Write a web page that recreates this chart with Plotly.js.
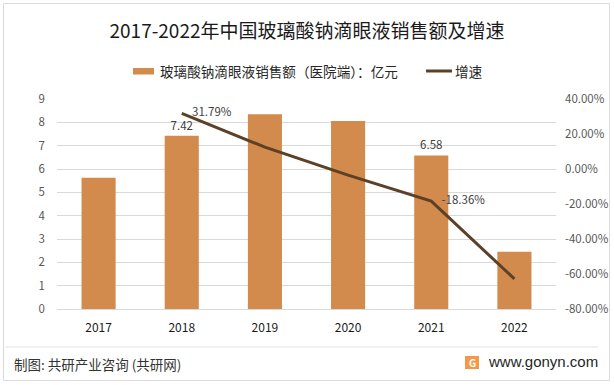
<!DOCTYPE html>
<html><head><meta charset="utf-8">
<script src="https://cdn.plot.ly/plotly-3.0.1.min.js"></script>
<style>html,body{margin:0;padding:0;background:#fff}#chart{width:614px;height:385px}</style>
</head><body><div id="chart"></div>
<script>
const years = ['2017','2018','2019','2020','2021','2022'];
const sales = [5.63, 7.42, 8.35, 8.06, 6.58, 2.45];
const salesLabels = ['', '7.42', '', '', '6.58', ''];
const growthYears = ['2018','2019','2020','2021','2022'];
const growth = [31.79, 12.5, -3.5, -18.36, -62.8];
const growthLabels = ['31.79%', '', '', '-18.36%', ''];
const leftTicks = [0,1,2,3,4,5,6,7,8,9];
const rightTicks = [-80,-60,-40,-20,0,20,40];
const rightTickText = rightTicks.map(v => v.toFixed(2) + '%');
const barName = '玻璃酸钠滴眼液销售额（医院端）：亿元';
const lineName = '增速';

const FONT = '"Noto Sans CJK SC", "Noto Sans", sans-serif';
const pw = 499, ph = 210, L = 57, T = 99;
const px = x => (x - L) / pw;
const py = y => (T + ph - y) / ph;
const BAR_COLOR = '#D38B4D', LINE_COLOR = '#5C4127';
const pad = '\u00a0\u00a0\u00a0\u00a0';

const traces = [
  {type:'bar', x: years, y: sales, name: barName,
   marker:{color:BAR_COLOR}, width:0.41,
   text: salesLabels, textposition:'outside', cliponaxis:false,
   textfont:{size:11.5, color:'#404040', family:FONT}, hoverinfo:'none'},
  {type:'scatter', mode:'lines+text', x: growthYears, y: growth, yaxis:'y2', name: lineName,
   line:{color:LINE_COLOR, width:3},
   text: growthLabels.map(t => t ? pad + t : ''), textposition:'middle right', cliponaxis:false,
   textfont:{size:11.5, color:'#404040', family:FONT}, hoverinfo:'none'}
];

const layout = {
  width:614, height:385,
  margin:{l:L, r:614-L-pw, t:T, b:385-T-ph, pad:0},
  paper_bgcolor:'#fff', plot_bgcolor:'#fff',
  font:{family:FONT, color:'#595959', size:11},
  title:{text:'2017-2022年中国玻璃酸钠滴眼液销售额及增速', x:0.5, xanchor:'center', y:1-31/385, yanchor:'middle',
         font:{size:19, color:'#1a1a1a', family:FONT}},
  showlegend:false,
  bargap:0.59,
  xaxis:{type:'category', tickfont:{size:12, color:'#1a1a1a'}, showline:true, linecolor:'#d9d9d9',
         ticks:'', showgrid:false, fixedrange:true, ticklabelstandoff:8},
  yaxis:{range:[0,9], tickvals:leftTicks, showgrid:true, gridcolor:'#d9d9d9', zeroline:false,
         ticks:'', tickfont:{size:11.5, color:'#595959'}, ticklabelstandoff:11, fixedrange:true},
  yaxis2:{range:[-80,40], overlaying:'y', side:'right', tickvals:rightTicks, ticktext:rightTickText,
          showgrid:false, zeroline:false, ticks:'', tickfont:{size:11.5, color:'#595959'}, ticklabelstandoff:8, fixedrange:true},
  shapes:[
    {type:'rect', xref:'paper', yref:'paper', x0:px(3.5), x1:px(609.5), y0:py(380.5), y1:py(3.5),
     line:{color:'#d9d9d9', width:1}, fillcolor:'rgba(0,0,0,0)'},
    {type:'line', xref:'paper', yref:'paper', x0:px(5), x1:px(598), y0:py(347), y1:py(347),
     line:{color:'#e3e3e3', width:1}},
    {type:'rect', xref:'paper', yref:'paper', x0:px(133), x1:px(154), y0:py(74.5), y1:py(68),
     line:{width:0}, fillcolor:BAR_COLOR},
    {type:'line', xref:'paper', yref:'paper', x0:px(426), x1:px(452), y0:py(71), y1:py(71),
     line:{color:LINE_COLOR, width:3}},
    {type:'rect', xref:'paper', yref:'paper', x0:px(465), x1:px(479), y0:py(369), y1:py(356),
     line:{width:0}, fillcolor:'#F39A4A'}
  ],
  annotations:[
    {xref:'paper', yref:'paper', x:px(158), y:py(71), xanchor:'left', yanchor:'middle', showarrow:false,
     text:barName, font:{size:13.6, color:'#262626', family:FONT}},
    {xref:'paper', yref:'paper', x:px(453), y:py(71), xanchor:'left', yanchor:'middle', showarrow:false,
     text:lineName, font:{size:13.6, color:'#262626', family:FONT}},
    {xref:'paper', yref:'paper', x:px(12), y:py(364), xanchor:'left', yanchor:'middle', showarrow:false,
     text:'制图: 共研产业咨询 (共研网)', font:{size:13.5, color:'#333', family:FONT}},
    {xref:'paper', yref:'paper', x:px(472), y:py(362.5), xanchor:'center', yanchor:'middle', showarrow:false,
     text:'<b>G</b>', font:{size:10, color:'#fff', family:FONT}},
    {xref:'paper', yref:'paper', x:px(486), y:py(361), xanchor:'left', yanchor:'middle', showarrow:false,
     text:'www.gonyn.com', font:{size:15, color:'#262626', family:'"Liberation Sans", Arial, sans-serif'}}
  ]
};
Plotly.newPlot('chart', traces, layout, {displayModeBar:false, staticPlot:true});
</script></body></html>
